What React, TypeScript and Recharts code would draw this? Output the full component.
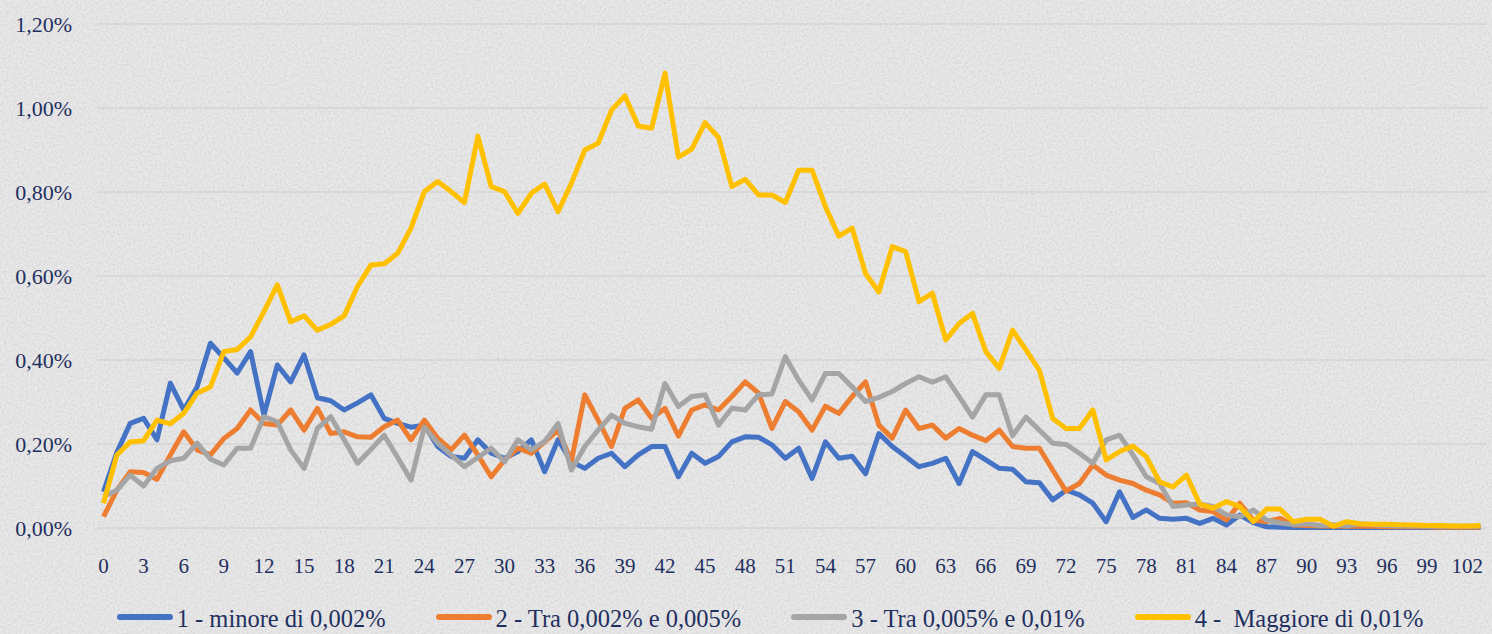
import React from 'react';
import { LineChart, Line, XAxis, YAxis, CartesianGrid, Legend } from 'recharts';

// values in percent, one per category 0..103
const categories = Array.from({ length: 104 }, (_, i) => String(i));

const minore = [
    0.086, 0.18, 0.249, 0.261, 0.21, 0.345, 0.281, 0.336, 0.44, 0.405,
    0.369, 0.42, 0.269, 0.388, 0.348, 0.412, 0.31, 0.303, 0.281, 0.298,
    0.317, 0.261, 0.249, 0.24, 0.245, 0.194, 0.17, 0.166, 0.21, 0.178,
    0.166, 0.182, 0.21, 0.134, 0.21, 0.158, 0.142, 0.166, 0.178, 0.146,
    0.174, 0.194, 0.194, 0.122, 0.178, 0.154, 0.17, 0.205, 0.217, 0.216,
    0.198, 0.166, 0.19, 0.118, 0.205, 0.166, 0.171, 0.129, 0.225, 0.194,
    0.17, 0.146, 0.154, 0.166, 0.106, 0.182, 0.162, 0.142, 0.14, 0.11,
    0.108, 0.067, 0.09, 0.079, 0.059, 0.015, 0.086, 0.025, 0.043, 0.023,
    0.021, 0.023, 0.011, 0.023, 0.007, 0.031, 0.013, 0.003, 0.002, 0.001,
    0.001, 0.002, 0.001, 0.001, 0.002, 0.001, 0.001, 0.001, 0.002, 0.001,
    0.001, 0.001, 0.001, 0.001,
];

const tra002e005 = [
    0.027, 0.09, 0.134, 0.132, 0.116, 0.174, 0.229, 0.186, 0.174, 0.213,
    0.237, 0.281, 0.249, 0.245, 0.281, 0.233, 0.285, 0.225, 0.229, 0.217,
    0.216, 0.241, 0.257, 0.21, 0.257, 0.214, 0.186, 0.221, 0.174, 0.122,
    0.162, 0.19, 0.178, 0.205, 0.233, 0.16, 0.317, 0.257, 0.194, 0.285,
    0.305, 0.261, 0.285, 0.219, 0.281, 0.293, 0.281, 0.313, 0.348, 0.321,
    0.237, 0.301, 0.277, 0.233, 0.29, 0.273, 0.313, 0.348, 0.245, 0.214,
    0.281, 0.237, 0.245, 0.214, 0.237, 0.221, 0.208, 0.233, 0.194, 0.19,
    0.19, 0.138, 0.088, 0.106, 0.15, 0.126, 0.114, 0.106, 0.09, 0.079,
    0.059, 0.06, 0.043, 0.039, 0.019, 0.059, 0.019, 0.015, 0.023, 0.007,
    0.006, 0.005, 0.005, 0.004, 0.004, 0.004, 0.003, 0.003, 0.003, 0.003,
    0.002, 0.002, 0.002, 0.002,
];

const tra005e01 = [
    0.075, 0.09, 0.126, 0.1, 0.142, 0.16, 0.166, 0.202, 0.164, 0.15,
    0.19, 0.19, 0.265, 0.253, 0.186, 0.142, 0.237, 0.265, 0.21, 0.154,
    0.187, 0.221, 0.168, 0.114, 0.24, 0.202, 0.174, 0.146, 0.168, 0.19,
    0.158, 0.21, 0.186, 0.206, 0.249, 0.138, 0.194, 0.233, 0.269, 0.249,
    0.241, 0.235, 0.344, 0.289, 0.313, 0.317, 0.245, 0.285, 0.281, 0.317,
    0.319, 0.408, 0.352, 0.305, 0.368, 0.368, 0.336, 0.301, 0.311, 0.325,
    0.344, 0.36, 0.347, 0.36, 0.313, 0.264, 0.317, 0.317, 0.22, 0.264,
    0.233, 0.202, 0.199, 0.178, 0.154, 0.21, 0.221, 0.174, 0.122, 0.106,
    0.051, 0.055, 0.057, 0.051, 0.031, 0.027, 0.043, 0.019, 0.012, 0.008,
    0.01, 0.006, 0.008, 0.005, 0.01, 0.008, 0.006, 0.005, 0.005, 0.004,
    0.004, 0.004, 0.004, 0.004,
];

const maggiore = [
    0.059, 0.174, 0.205, 0.208, 0.257, 0.248, 0.273, 0.321, 0.336, 0.42,
    0.425, 0.455, 0.515, 0.579, 0.491, 0.505, 0.471, 0.485, 0.505, 0.575,
    0.626, 0.629, 0.654, 0.714, 0.801, 0.825, 0.801, 0.775, 0.933, 0.813,
    0.801, 0.749, 0.797, 0.819, 0.753, 0.821, 0.9, 0.916, 0.995, 1.029,
    0.957, 0.952, 1.083, 0.883, 0.902, 0.965, 0.93, 0.813, 0.83, 0.793,
    0.793, 0.775, 0.852, 0.852, 0.765, 0.695, 0.714, 0.606, 0.562, 0.67,
    0.658, 0.539, 0.559, 0.448, 0.487, 0.511, 0.42, 0.38, 0.471, 0.424,
    0.376, 0.261, 0.237, 0.237, 0.281, 0.162, 0.182, 0.195, 0.17, 0.11,
    0.098, 0.126, 0.057, 0.047, 0.063, 0.051, 0.015, 0.045, 0.045, 0.015,
    0.021, 0.021, 0.004, 0.015, 0.01, 0.009, 0.009, 0.008, 0.007, 0.006,
    0.006, 0.005, 0.005, 0.006,
];

const yTicks = [0, 0.2, 0.4, 0.6, 0.8, 1.0, 1.2];

const seriesNames = [
    '1 - minore di 0,002%',
    '2 - Tra 0,002% e 0,005%',
    '3 - Tra 0,005% e 0,01%',
    '4 -  Maggiore di 0,01%',
];

const COLORS = ['#4472C4', '#ED7D31', '#A5A5A5', '#FFC000'];
const TEXT = '#1f3060';
const FONT = 'Liberation Serif, Tinos, DejaVu Serif, serif';

const data = categories.map((c, i) => ({
    x: c,
    s1: minore[i],
    s2: tra002e005[i],
    s3: tra005e01[i],
    s4: maggiore[i],
}));

const fmtPct = (v: number) => v.toFixed(2).replace('.', ',') + '%';

const renderLegend = () => (
    <div style={{ display: 'flex', justifyContent: 'center', alignItems: 'center', gap: 49, height: 46, paddingTop: 16, boxSizing: 'border-box', paddingLeft: 52 }}>
        {seriesNames.map((name, i) => (
            <div key={name} style={{ display: 'flex', alignItems: 'center' }}>
                <svg width={58} height={10} style={{ marginRight: 3, marginTop: -4 }}>
                    <line x1={4} y1={5} x2={54} y2={5} stroke={COLORS[i]} strokeWidth={6} strokeLinecap="round" />
                </svg>
                <span style={{ fontFamily: FONT, fontSize: 24.5, color: TEXT, whiteSpace: 'pre' }}>{name}</span>
            </div>
        ))}
    </div>
);

const App = () => {
    return (
        <div style={{ position: 'absolute', left: 0, top: 0, width: 1492, height: 634, background: '#e8e8e8', overflow: 'hidden' }}>
            <svg width={1492} height={634} style={{ position: 'absolute', left: 0, top: 0 }}>
                <defs>
                    <filter id="stone" x="0" y="0" width="100%" height="100%">
                        <feTurbulence type="fractalNoise" baseFrequency="0.45" numOctaves={2} seed={3} />
                        <feColorMatrix type="matrix" values="0 0 0 0 0.45  0 0 0 0 0.45  0 0 0 0 0.45  0 0 0 -1.6 1.0" />
                    </filter>
                </defs>
                <rect width={1492} height={634} filter="url(#stone)" opacity={0.4} />
            </svg>
            <div style={{ position: 'absolute', left: 0, top: 0 }}>
                <LineChart width={1492} height={634} data={data} margin={{ top: 24, right: 5, left: 0, bottom: 0 }}>
                    <CartesianGrid vertical={false} stroke="#d4d4d4" strokeWidth={1.5} />
                    <XAxis
                        dataKey="x"
                        interval={2}
                        padding={{ left: 6.5, right: 6.5 }}
                        axisLine={false}
                        tickLine={false}
                        tickSize={0}
                        tickMargin={30}
                        height={60}
                        tick={{ fontSize: 21, fill: TEXT, fontFamily: FONT }}
                    />
                    <YAxis
                        width={97}
                        domain={[0, 1.2]}
                        ticks={yTicks}
                        tickFormatter={fmtPct}
                        axisLine={false}
                        tickLine={false}
                        tickSize={0}
                        tickMargin={25}
                        tick={{ fontSize: 22, fill: TEXT, fontFamily: FONT }}
                    />
                    <Legend verticalAlign="bottom" height={46} content={renderLegend} />
                    {['s1', 's2', 's3', 's4'].map((k, i) => (
                        <Line
                            key={k}
                            type="linear"
                            dataKey={k}
                            name={seriesNames[i]}
                            stroke={COLORS[i]}
                            strokeWidth={5}
                            strokeLinejoin="round"
                            dot={false}
                            isAnimationActive={false}
                        />
                    ))}
                </LineChart>
            </div>
        </div>
    );
};

export default App;
